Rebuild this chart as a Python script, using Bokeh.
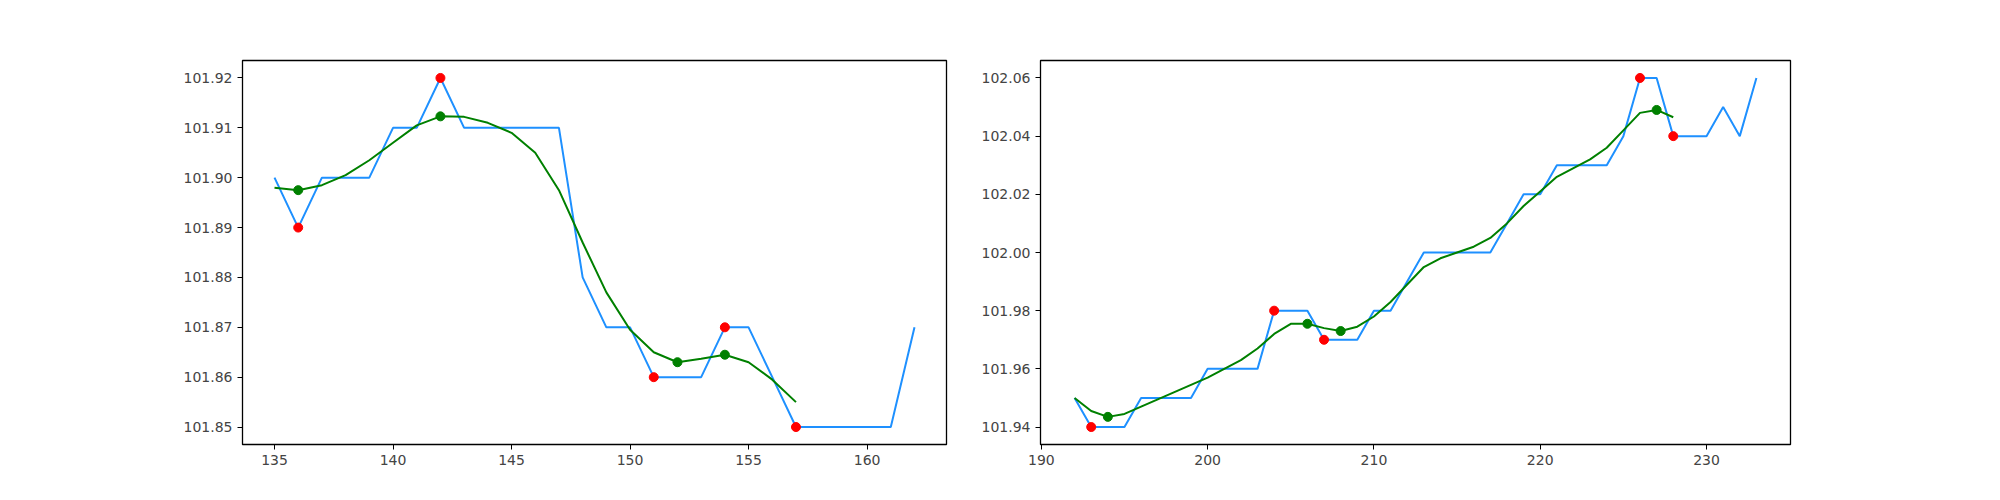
from bokeh.plotting import figure
from bokeh.layouts import row
from bokeh.models import Range1d, FixedTicker, NumeralTickFormatter
from bokeh.embed import file_html
from bokeh.resources import INLINE

x1 = list(range(135, 163))
y1 = [101.90, 101.89, 101.90, 101.90, 101.90, 101.91, 101.91, 101.92, 101.91, 101.91,
      101.91, 101.91, 101.91, 101.88, 101.87, 101.87, 101.86, 101.86, 101.86, 101.87,
      101.87, 101.86, 101.85, 101.85, 101.85, 101.85, 101.85, 101.87]
sx1 = list(range(135, 158))
s1 = [101.898, 101.8975, 101.8985, 101.9005, 101.9035, 101.907, 101.9105, 101.9123,
      101.9122, 101.911, 101.909, 101.905, 101.8975, 101.887, 101.877, 101.8695,
      101.865, 101.863, 101.8637, 101.8645, 101.863, 101.8595, 101.855]
red1 = [136, 142, 151, 154, 157]
grn1 = [136, 142, 152, 154]

x2 = list(range(192, 234))
y2 = [101.95, 101.94, 101.94, 101.94, 101.95, 101.95, 101.95, 101.95, 101.96, 101.96,
      101.96, 101.96, 101.98, 101.98, 101.98, 101.97, 101.97, 101.97, 101.98, 101.98,
      101.99, 102.00, 102.00, 102.00, 102.00, 102.00, 102.01, 102.02, 102.02, 102.03,
      102.03, 102.03, 102.03, 102.04, 102.06, 102.06, 102.04, 102.04, 102.04, 102.05,
      102.04, 102.06]
sx2 = list(range(192, 229))
s2 = [101.950, 101.9455, 101.9435, 101.9445, 101.947, 101.9495, 101.952, 101.9545,
      101.957, 101.960, 101.963, 101.967, 101.972, 101.9755, 101.9755, 101.974, 101.973,
      101.9745, 101.978, 101.983, 101.989, 101.995, 101.998, 102.000, 102.002, 102.005,
      102.010, 102.016, 102.021, 102.026, 102.029, 102.032, 102.036, 102.042, 102.048,
      102.049, 102.0465]
red2 = [193, 204, 207, 226, 228]
grn2 = [194, 206, 208, 227]

xt1 = [135, 140, 145, 150, 155, 160]
yt1 = [101.85, 101.86, 101.87, 101.88, 101.89, 101.90, 101.91, 101.92]
xt2 = [190, 200, 210, 220, 230]
yt2 = [101.94, 101.96, 101.98, 102.00, 102.02, 102.04, 102.06]


def make(x, y, sx, s, red, grn, xt, yt, xr, yr, fw, bl, br):
    p = figure(frame_width=fw, frame_height=384, output_backend="svg", toolbar_location=None,
               x_range=Range1d(*xr), y_range=Range1d(*yr),
               min_border_left=bl, min_border_right=br, min_border_top=60, min_border_bottom=40)
    p.grid.visible = False
    p.outline_line_color = "black"
    p.outline_line_width = 1.3
    for ax in (p.xaxis[0], p.yaxis[0]):
        ax.minor_tick_line_color = None
        ax.major_label_text_font_size = "14px"
        ax.major_label_text_font = "DejaVu Sans"
        ax.major_tick_out = 5
        ax.major_tick_in = 0
        ax.axis_line_color = "black"
    p.xaxis.ticker = FixedTicker(ticks=xt)
    p.yaxis.ticker = FixedTicker(ticks=yt)
    p.yaxis.formatter = NumeralTickFormatter(format="0.00")
    p.line(x, y, color="#1e90ff", line_width=2)
    p.line(sx, s, color="green", line_width=2)
    ry = [y[x.index(v)] for v in red]
    gy = [s[sx.index(v)] for v in grn]
    p.scatter(red, ry, size=9, color="red")
    p.scatter(grn, gy, size=9, color="green")
    return p


p1 = make(x1, y1, sx1, s1, red1, grn1, xt1, yt1, (133.65, 163.35), (101.8465, 101.9235), 704, 242, 20)
p2 = make(x2, y2, sx2, s2, red2, grn2, xt2, yt2, (189.95, 235.05), (101.934, 102.066), 750, 74, 50)
p = row(p1, p2)
open("out.html", "w").write(file_html(p, INLINE))
